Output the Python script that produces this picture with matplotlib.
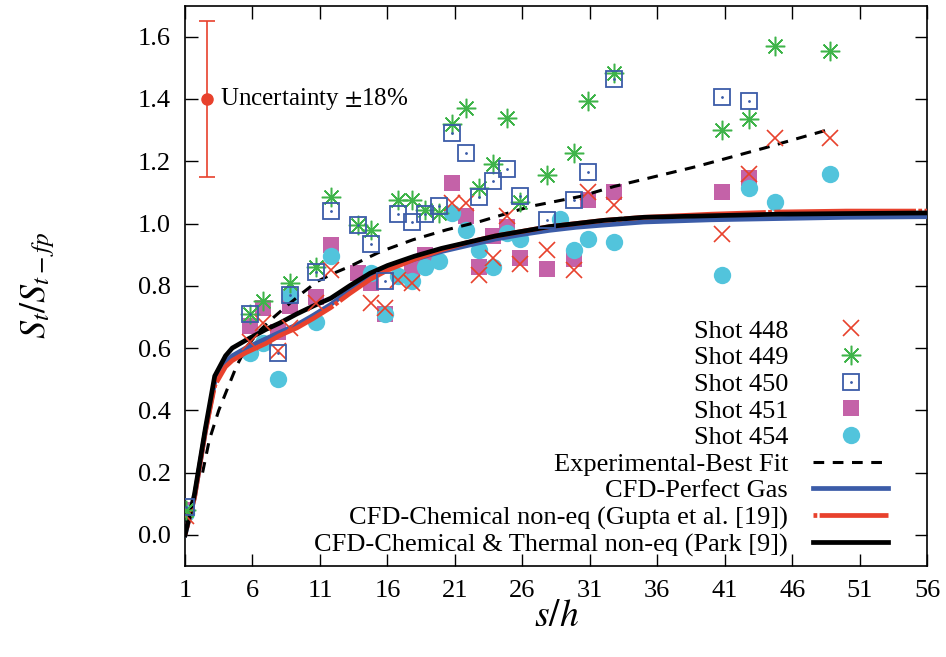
import numpy as np
import matplotlib
matplotlib.use("Agg")
import matplotlib.pyplot as plt
from matplotlib.legend_handler import HandlerTuple

plt.rcParams['font.family'] = ['Liberation Serif', 'DejaVu Serif']
plt.rcParams['mathtext.fontset'] = 'stix'

nan = np.nan

# measurement stations (s/h)
s_pts = [1.1, 5.8, 6.8, 7.9, 8.8, 10.7, 11.8, 13.8, 14.8, 15.8, 16.8, 17.8, 18.8,
         19.8, 20.8, 21.8, 22.8, 23.8, 24.9, 25.8, 27.8, 28.8, 29.8, 30.9, 32.8,
         40.8, 42.8, 44.7, 48.8]

shot448 = [0.06, 0.62, 0.68, 0.59, 0.665, 0.745, 0.85, nan, 0.745, 0.73, 0.82, 0.81, nan,
           nan, 1.065, 1.065, 0.835, 0.89, 1.025, 0.87, 0.915, nan, 0.85, 1.10, 1.06,
           0.965, 1.16, 1.275, 1.275]
shot449 = [0.08, 0.71, 0.75, nan, 0.81, 0.86, 1.085, 0.995, 0.98, nan, 1.075, 1.075, 1.045,
           1.035, 1.32, 1.37, 1.115, 1.19, 1.34, 1.07, 1.155, nan, 1.225, 1.395, 1.485,
           1.30, 1.335, 1.57, 1.555]
shot450 = [0.09, 0.71, nan, 0.585, 0.77, 0.845, 1.04, 0.995, 0.935, 0.815, 1.03, 1.005, 1.03,
           1.055, 1.29, 1.225, 1.085, 1.135, 1.175, 1.09, 1.01, nan, 1.075, 1.165, 1.465,
           1.405, 1.395, nan, nan]
shot451 = [0.08, 0.67, 0.73, 0.65, 0.735, 0.765, 0.93, 0.84, 0.81, 0.71, nan, 0.855, 0.90,
           nan, 1.13, 1.025, 0.86, 0.96, 0.99, 0.89, 0.855, nan, 0.885, 1.075, 1.10,
           1.10, 1.145, nan, nan]
shot454 = [0.07, 0.585, 0.615, 0.50, 0.77, 0.685, 0.895, nan, 0.84, 0.71, 0.83, 0.815, 0.86,
           0.88, 1.035, 0.98, 0.915, 0.86, 0.97, 0.95, nan, 1.015, 0.915, 0.95, 0.94,
           0.835, 1.115, 1.07, 1.16]

# experimental best fit
s_fit = [2.3, 2.8, 3.5, 4.1, 4.8, 5.5, 6.5, 7.6, 8.8, 9.7, 10.8, 12.0, 13.2, 15.5, 17.9,
         20.4, 22.9, 26.6, 30.3, 32.8, 38.9, 43.9, 48.8]
v_fit = [0.20, 0.305, 0.40, 0.465, 0.54, 0.60, 0.655, 0.70, 0.745, 0.777, 0.814, 0.84,
         0.862, 0.91, 0.948, 0.98, 1.007, 1.055, 1.087, 1.119, 1.183, 1.242, 1.303]

# CFD solutions
s_cfd = [1, 1.7, 2.5, 3.2, 4.0, 4.5, 5.5, 7.0, 8.0, 9.3, 10.5, 11.8, 13.2, 14.7, 16.0,
         18.0, 20.0, 22.0, 24.0, 26.0, 28.0, 30.0, 32.0, 35.0, 40.0, 45.0, 50.0, 56.0]
v_perfect = [0.0, 0.12, 0.33, 0.49, 0.555, 0.575, 0.60, 0.63, 0.65, 0.675, 0.705, 0.74,
             0.785, 0.825, 0.855, 0.885, 0.91, 0.93, 0.95, 0.965, 0.978, 0.988, 0.995,
             1.005, 1.012, 1.016, 1.02, 1.022]
v_chem = [0.0, 0.12, 0.33, 0.48, 0.54, 0.56, 0.585, 0.615, 0.64, 0.665, 0.695, 0.73,
          0.775, 0.82, 0.85, 0.885, 0.915, 0.94, 0.96, 0.975, 0.99, 1.0, 1.01, 1.02,
          1.03, 1.037, 1.04, 1.04]
v_park = [0.0, 0.13, 0.34, 0.51, 0.575, 0.60, 0.625, 0.66, 0.68, 0.71, 0.735, 0.76,
          0.80, 0.84, 0.865, 0.895, 0.92, 0.94, 0.96, 0.975, 0.99, 1.0, 1.01, 1.02,
          1.025, 1.03, 1.032, 1.034]

unc_s, unc_v, unc_err = 2.63, 1.40, 0.252

red = '#e8412c'
green = '#3fb44a'
blue = '#3b5ca8'
magenta = '#c462a8'
cyan = '#52c4dc'

fig = plt.figure(figsize=(9.46, 6.57), dpi=100)
ax = fig.add_axes([0.1956, 0.1385, 0.7844, 0.853])

chem_dash = (0.8, 0.5, 30, 0.5)
fit_dash = (3.5, 2.8)

ax.plot(s_fit, v_fit, color='black', lw=2.2, dashes=fit_dash, zorder=3)
l_pg, = ax.plot(s_cfd, v_perfect, color=blue, lw=3.4, zorder=4)
l_ch, = ax.plot(s_cfd, v_chem, color=red, lw=3.4, dashes=chem_dash, zorder=5)
l_pk, = ax.plot(s_cfd, v_park, color='black', lw=3.4, zorder=6)

ax.plot(s_pts, shot448, ls='none', marker='x', ms=11, mew=1.2, color=red, zorder=7)
ax.plot(s_pts, shot449, ls='none', marker=(8, 2, 0), ms=14, mew=1.1, color=green, zorder=7)
ax.plot(s_pts, shot450, ls='none', marker='s', ms=11.5, mew=1.3, mfc='none', mec=blue, zorder=7)
ax.plot(s_pts, shot450, ls='none', marker='.', ms=2, color=blue, zorder=7)
ax.plot(s_pts, shot451, ls='none', marker='s', ms=12, mew=0, color=magenta, zorder=2)
ax.plot(s_pts, shot454, ls='none', marker='o', ms=12.5, mew=0, color=cyan, zorder=2)

ax.errorbar([unc_s], [unc_v], yerr=[unc_err], fmt='o', color=red, ms=8,
            elinewidth=1.2, capsize=6, capthick=1.2, zorder=8)
ax.text(3.6, unc_v, 'Uncertainty $\\pm$18%', fontsize=18, va='center', ha='left')

# legend handles
h448, = ax.plot([], [], ls='none', marker='x', ms=11, mew=1.2, color=red)
h449, = ax.plot([], [], ls='none', marker=(8, 2, 0), ms=14, mew=1.1, color=green)
h450a, = ax.plot([], [], ls='none', marker='s', ms=11.5, mew=1.3, mfc='none', mec=blue)
h450b, = ax.plot([], [], ls='none', marker='.', ms=2, color=blue)
h451, = ax.plot([], [], ls='none', marker='s', ms=12, mew=0, color=magenta)
h454, = ax.plot([], [], ls='none', marker='o', ms=12.5, mew=0, color=cyan)
hfit, = ax.plot([], [], color='black', lw=2.2, dashes=fit_dash)

ax.legend([h448, h449, (h450a, h450b), h451, h454, hfit, l_pg, l_ch, l_pk],
          ['Shot 448', 'Shot 449', 'Shot 450', 'Shot 451', 'Shot 454',
           'Experimental-Best Fit', 'CFD-Perfect Gas',
           'CFD-Chemical non-eq (Gupta et al. [19])',
           'CFD-Chemical & Thermal non-eq (Park [9])'],
          handler_map={tuple: HandlerTuple(ndivide=1, pad=0)},
          loc='lower right', bbox_to_anchor=(0.962, -0.002), frameon=False,
          markerfirst=False, fontsize=19, handlelength=2.85, handletextpad=0.95,
          labelspacing=0.12, borderaxespad=0.0)

ax.set_xlim(1, 56)
ax.set_ylim(-0.1, 1.7)
ax.set_xticks(np.arange(1, 57, 5))
ax.set_yticks(np.arange(0, 1.61, 0.2))
ax.yaxis.set_major_formatter(matplotlib.ticker.FormatStrFormatter('%.1f'))
ax.tick_params(direction='in', length=9, width=1, labelsize=19, top=True, right=True,
               pad=10)
for sp in ax.spines.values():
    sp.set_linewidth(1.2)

ax.set_xlabel('$s/h$', fontsize=27, labelpad=-2)
ax.set_ylabel('$S_t/S_{t-fp}$', fontsize=26, labelpad=58)

fig.savefig('out.png', dpi=100)
